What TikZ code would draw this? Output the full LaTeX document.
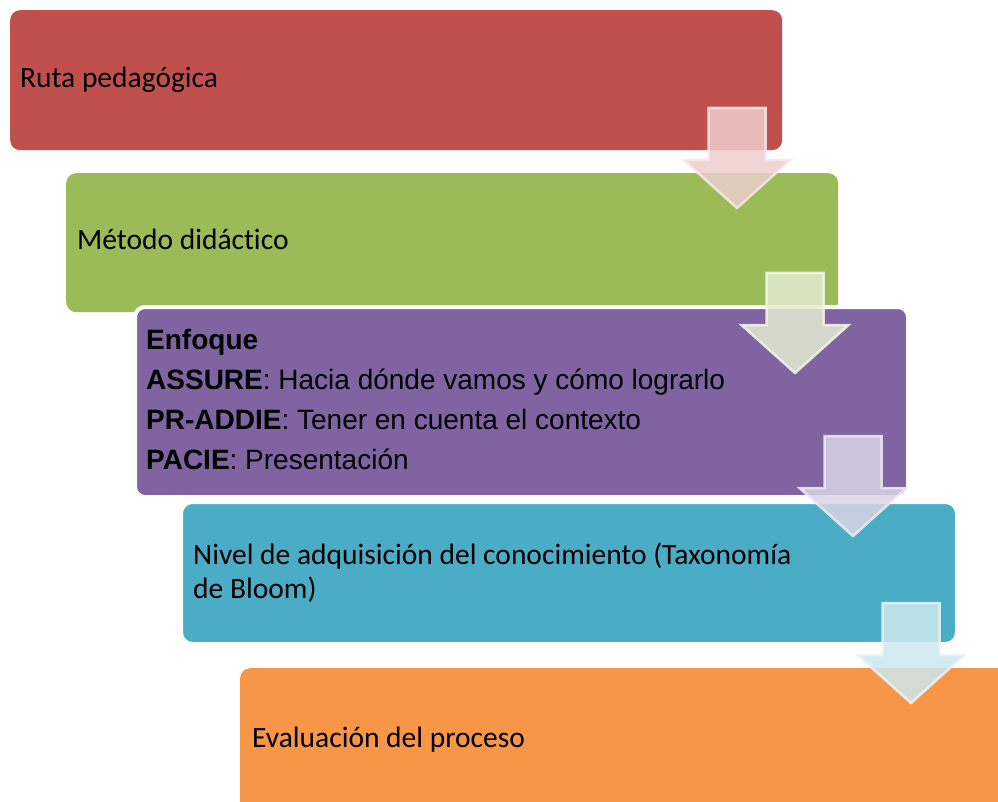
\documentclass[tikz,border=0pt]{standalone}
\usepackage{fontspec}
\usetikzlibrary{calc}
\setmainfont{Carlito}[Ligatures=NoCommon]
\newfontfamily\arialf{Liberation Sans}
\definecolor{cRed}{HTML}{C0504D}
\definecolor{cGreen}{HTML}{9BBB59}
\definecolor{cPurple}{HTML}{8064A2}
\definecolor{cBlue}{HTML}{4BACC6}
\definecolor{cOrange}{HTML}{F79646}
\tikzset{
  boxshape/.style={rectangle, rounded corners=10pt, anchor=north west, inner sep=0pt},
  boxtext/.style={anchor=base west, inner sep=0pt, font=\fontsize{29.5}{34}\selectfont, text=black},
  enftext/.style={anchor=base west, inner sep=0pt, font=\arialf\fontsize{28}{40}\selectfont, text=black, align=left},
  arrowshape/.style={line width=2.5pt, fill opacity=0.85, draw opacity=0.85, line join=miter}
}
\begin{document}
\begin{tikzpicture}[x=1pt,y=-1pt]
\useasboundingbox (0,0) rectangle (998,802);
\clip (0,0) rectangle (998,802);
% boxes
\node[boxshape, fill=cRed, minimum width=772pt, minimum height=140pt] (b1) at (10,10) {};
\node[boxshape, fill=cGreen, minimum width=772pt, minimum height=139pt] (b2) at (66,173) {};
\node[boxshape, fill=cPurple, draw=white, line width=4pt, minimum width=773pt, minimum height=190pt] (b3) at (133,305) {};
\node[boxshape, fill=cBlue, draw=white, line width=1pt, minimum width=773pt, minimum height=139pt] (b4) at (182,503) {};
\node[boxshape, fill=cOrange, minimum width=790pt, minimum height=150pt] (b5) at (240,668) {};
% texts
\node[boxtext] (t1) at (20,88) {Ruta pedagógica};
\node[boxtext] (t2) at (77,250) {Método didáctico};
\node[enftext] (t3a) at (146,349) {\textbf{Enfoque}};
\node[enftext] (t3b) at (146,389) {\textbf{ASSURE}: Hacia dónde vamos y cómo lograrlo};
\node[enftext] (t3c) at (146,429) {\textbf{PR-ADDIE}: Tener en cuenta el contexto};
\node[enftext] (t3d) at (146,469) {\textbf{PACIE}: Presentación};
\node[boxtext] (t4a) at (193,564) {Nivel de adquisición del conocimiento (Taxonomía};
\node[boxtext] (t4b) at (193,598) {de Bloom)};
\node[boxtext] (t5) at (252,747) {Evaluación del proceso};
% arrows
\foreach \cx/\ty/\c in {737/108/cRed, 795/273/cGreen, 853/436/cPurple, 911/603/cBlue}{
  \coordinate (a) at (\cx,\ty);
  \draw[arrowshape, fill=\c!28!white, draw=\c!12!white]
    ($(a)+(-28.5,0)$) -- ($(a)+(28.5,0)$) -- ($(a)+(28.5,52)$) -- ($(a)+(53.5,52)$)
    -- ($(a)+(0,100)$) -- ($(a)+(-53.5,52)$) -- ($(a)+(-28.5,52)$) -- cycle;
}
\end{tikzpicture}
\end{document}
